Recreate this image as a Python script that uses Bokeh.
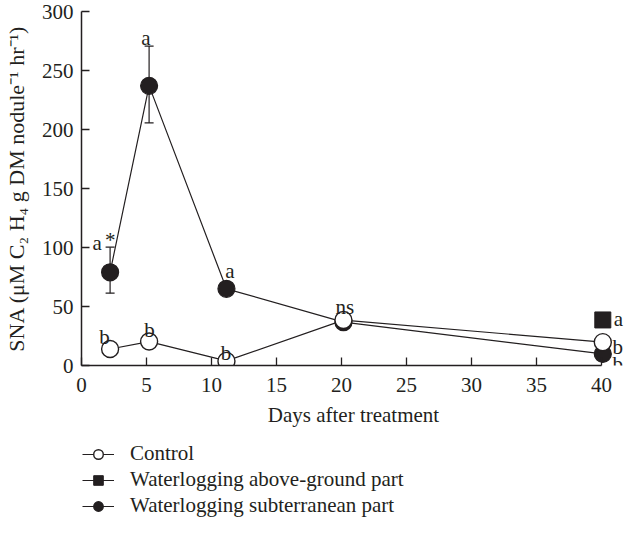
from bokeh.plotting import figure
from bokeh.layouts import column
from bokeh.models import ColumnDataSource, Whisker, TeeHead, Legend, LegendItem, Range1d, FixedTicker
from bokeh.core.properties import value
from bokeh.embed import file_html
from bokeh.resources import INLINE

# ---- data ----
days = [2.2, 5.2, 11.15, 20.15, 40.1]
control = [14, 20.3, 3.9, 38.5, 19.8]
subterranean = [79, 237, 65, 36.7, 9.8]
above_days = [40.1]
above_ground = [38.6]
err_days = [2.2, 5.2]
err_lower = [61.3, 205.6]
err_upper = [100.3, 270.7]

ann_x = [0.85, 1.8, 4.6, 11.05, 19.54, 1.36, 4.82, 10.72, 40.95, 40.85, 40.85]
ann_y = [104.0, 106.5, 277.8, 79.7, 50.0, 24.5, 30.2, 11.0, 39.2, 15.4, 1.2]
ann_text = ["a", "*", "a", "a", "ns", "b", "b", "b", "a", "b", "b"]

series_labels = ["Control", "Waterlogging above-ground part", "Waterlogging subterranean part"]

x_ticks = [0, 5, 10, 15, 20, 25, 30, 35, 40]
y_ticks = [0, 50, 100, 150, 200, 250, 300]

INK = "#231f20"
FONT = "Liberation Serif"
FS = "21px"

p = figure(
    frame_width=544, frame_height=354,
    min_border_left=76, min_border_right=0, min_border_top=11, min_border_bottom=70,
    x_range=Range1d(0, 544 / 13.0), y_range=Range1d(0, 300),
    output_backend="svg", toolbar_location=None,
    background_fill_color="white", border_fill_color="white",
)
p.outline_line_color = None
p.xgrid.grid_line_color = None
p.ygrid.grid_line_color = None

for ax in (p.xaxis[0], p.yaxis[0]):
    ax.axis_line_color = INK
    ax.axis_line_width = 1.5
    ax.major_tick_line_color = INK
    ax.major_tick_line_width = 1.3
    ax.major_tick_in = 8
    ax.major_tick_out = 0
    ax.minor_tick_line_color = None
    ax.major_label_text_font = FONT
    ax.major_label_text_font_size = FS
    ax.major_label_text_color = INK
    ax.axis_label_text_font = FONT
    ax.axis_label_text_font_size = FS
    ax.axis_label_text_font_style = "normal"
    ax.axis_label_text_color = INK

p.xaxis.ticker = FixedTicker(ticks=x_ticks)
p.yaxis.ticker = FixedTicker(ticks=y_ticks)
p.xaxis.bounds = (0, 40)
p.yaxis.bounds = (0, 300)
p.xaxis.major_label_standoff = 12
p.yaxis.major_label_standoff = 8
p.xaxis.axis_label = "Days after treatment"
p.xaxis.axis_label_standoff = 8
p.yaxis.axis_label = "SNA (\u03bcM C\u2082 H\u2084 g DM nodule\u207b\u00b9 hr\u207b\u00b9)"
p.yaxis.axis_label_text_font_size = "22px"
p.yaxis.axis_label_standoff = 10

# error bars
err_src = ColumnDataSource(dict(x=err_days, lower=err_lower, upper=err_upper))
wh = Whisker(source=err_src, base="x", lower="lower", upper="upper",
             line_color=INK, line_width=1.2,
             upper_head=TeeHead(size=9, line_color=INK, line_width=1.2),
             lower_head=TeeHead(size=9, line_color=INK, line_width=1.2))
p.add_layout(wh)

# series
src_c = ColumnDataSource(dict(x=days, y=control))
src_s = ColumnDataSource(dict(x=days, y=subterranean))
src_a = ColumnDataSource(dict(x=above_days, y=above_ground))

line_kw = dict(line_color=INK, line_width=1.2)
c_kw = dict(marker="circle", size=17, fill_color="white", line_color=INK, line_width=1.4)
s_kw = dict(marker="circle", size=17, fill_color=INK, line_color=INK, line_width=1.2)
a_kw = dict(marker="square", size=16, fill_color=INK, line_color=INK, line_width=1)

p.line("x", "y", source=src_s, **line_kw)
p.line("x", "y", source=src_c, **line_kw)
p.scatter("x", "y", source=src_s, **s_kw)
p.scatter("x", "y", source=src_c, **c_kw)
p.scatter("x", "y", source=src_a, **a_kw)

# significance letters
ann_src = ColumnDataSource(dict(x=ann_x, y=ann_y, t=ann_text))
p.text("x", "y", text="t", source=ann_src, text_font=value(FONT),
       text_font_size=FS, text_color=INK,
       text_align="left", text_baseline="alphabetic")

# ---- legend strip below the chart (its frame is aligned with the chart frame) ----
leg = figure(
    width=620, height=84,
    min_border_left=0, min_border_right=0, min_border_top=0, min_border_bottom=0,
    x_range=Range1d(1000, 1001), y_range=Range1d(1000, 1001),
    x_axis_location=None, y_axis_location=None,
    output_backend="svg", toolbar_location=None,
    background_fill_color="white", border_fill_color="white",
)
leg.outline_line_color = None
leg.xgrid.grid_line_color = None
leg.ygrid.grid_line_color = None

lc = leg.line("x", "y", source=src_c, **line_kw)
mc = leg.scatter("x", "y", source=src_c, **c_kw)
la = leg.line("x", "y", source=src_a, **line_kw)
ma = leg.scatter("x", "y", source=src_a, **a_kw)
ls = leg.line("x", "y", source=src_s, **line_kw)
ms = leg.scatter("x", "y", source=src_s, **s_kw)

legend = Legend(items=[
    LegendItem(label=series_labels[0], renderers=[lc, mc]),
    LegendItem(label=series_labels[1], renderers=[la, ma]),
    LegendItem(label=series_labels[2], renderers=[ls, ms]),
], location=(1, 1), orientation="vertical")
legend.border_line_color = None
legend.background_fill_color = None
legend.background_fill_alpha = 0
legend.padding = 0
legend.margin = 0
legend.spacing = 1
legend.glyph_width = 32
legend.glyph_height = 24
legend.label_height = 24
legend.label_standoff = 16
legend.label_text_font = FONT
legend.label_text_font_size = FS
legend.label_text_color = INK
leg.add_layout(legend, "center")

layout = column(p, leg, spacing=0)
open("out.html", "w").write(file_html(layout, INLINE))
